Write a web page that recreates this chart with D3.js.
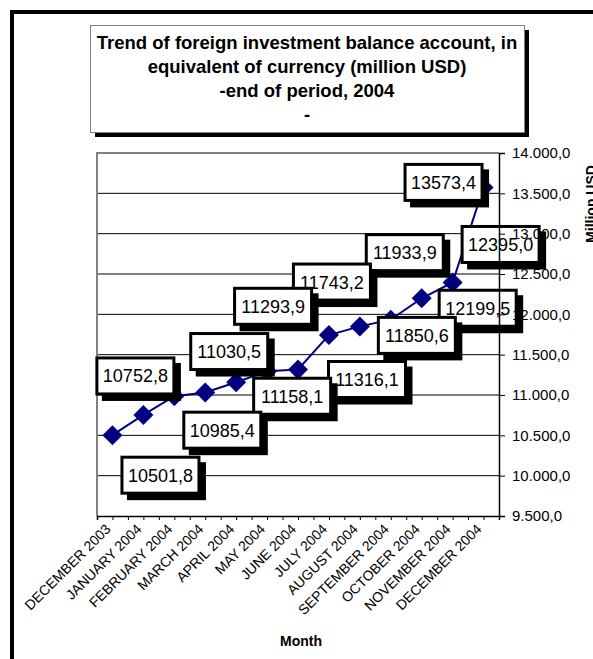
<!DOCTYPE html>
<html>
<head>
<meta charset="utf-8">
<script src="https://cdn.jsdelivr.net/npm/d3@7"></script>
<style>
  body { margin: 0; background: #fff; }
  svg { display: block; font-family: "Liberation Sans", Arial, sans-serif; }
</style>
</head>
<body>
<svg id="chart" width="593" height="659"></svg>
<script>
// chart data
const months = ["DECEMBER 2003", "JANUARY 2004", "FEBRUARY 2004", "MARCH 2004", "APRIL 2004",
    "MAY 2004", "JUNE 2004", "JULY 2004", "AUGUST 2004", "SEPTEMBER 2004",
    "OCTOBER 2004", "NOVEMBER 2004", "DECEMBER 2004"];
const balance = [10501.8, 10752.8, 10985.4, 11030.5, 11158.1, 11293.9, 11316.1,
    11743.2, 11850.6, 11933.9, 12199.5, 12395.0, 13573.4];
const yTicks = [9500, 10000, 10500, 11000, 11500, 12000, 12500, 13000, 13500, 14000];
const titleLines = ["Trend of foreign investment balance account, in",
    "equivalent of currency (million USD)", "-end of period, 2004", "-"];

const NAVY = '#000080';
const locale = d3.formatLocale({ decimal: ",", thousands: ".", grouping: [3], currency: ["", ""] });
const tickFmt = locale.format(",.1f");
const valFmt = locale.format(".1f");

var svg = d3.select("#chart");

// outer frame (only top and left edges show)
svg.append("path")
    .attr("d", "M12,700V12H700")
    .attr("fill", "none")
    .attr("stroke", "#000")
    .attr("stroke-width", 4);

// title box with shadow
svg.append("rect").attr("x", 95).attr("y", 30).attr("width", 434).attr("height", 107).attr("fill", "#000");
svg.append("rect").attr("x", 90.5).attr("y", 25.5).attr("width", 434).attr("height", 107)
    .attr("fill", "#fff").attr("stroke", "#808080").attr("stroke-width", 1);
svg.append("g").selectAll("text")
    .data(titleLines)
    .enter()
    .append("text")
    .attr("x", 307)
    .attr("y", (d, i) => 49 + i * 24)
    .attr("text-anchor", "middle")
    .style("font-size", "18.5px")
    .style("font-weight", "bold")
    .text(d => d);

// scales
var plotL = 97, plotR = 499, plotT = 153, plotB = 516;
var x = d3.scaleLinear().domain([-0.5, months.length - 0.5]).range([plotL, plotR]);
var y = d3.scaleLinear().domain([9500, 14000]).range([plotB, plotT]);

// grid
svg.append("g").selectAll("line")
    .data(yTicks.slice(1, -1))
    .enter()
    .append("line")
    .attr("x1", plotL).attr("x2", plotR)
    .attr("y1", d => y(d)).attr("y2", d => y(d))
    .attr("stroke", "#000").attr("stroke-width", 1);

// plot border top / left
svg.append("path")
    .attr("d", "M" + plotL + "," + plotB + "V" + plotT + "H" + plotR)
    .attr("fill", "none")
    .attr("stroke", "#808080")
    .attr("stroke-width", 2);

// bottom axis with half-category ticks
var halfTicks = d3.range(0, months.length * 2).map(i => i / 2 - 0.5).filter(d => d > -0.5);
var xAxis = d3.axisBottom(x).tickValues(halfTicks).tickSize(4).tickFormat("");
var gx = svg.append("g").attr("transform", "translate(0," + plotB + ")").call(xAxis);
gx.select(".domain").attr("stroke", "#000").attr("stroke-width", 1.5);
gx.selectAll(".tick line").attr("stroke", "#000");

// month labels
svg.append("g").selectAll("text")
    .data(months)
    .enter()
    .append("text")
    .attr("transform", (d, i) => "translate(" + (x(i) - 1) + "," + (plotB + 14) + ") rotate(-45)")
    .attr("text-anchor", "end")
    .style("font-size", "14px")
    .text(d => d);

svg.append("text")
    .attr("x", 301).attr("y", 646)
    .attr("text-anchor", "middle")
    .style("font-size", "14px").style("font-weight", "bold")
    .text("Month");

svg.append("text")
    .attr("transform", "translate(596,204) rotate(-90)")
    .attr("text-anchor", "middle")
    .style("font-size", "14px").style("font-weight", "bold")
    .text("Million USD");

// line + markers
var line = d3.line().x((d, i) => x(i)).y(d => y(d));
svg.append("path")
    .datum(balance)
    .attr("d", line)
    .attr("fill", "none")
    .attr("stroke", NAVY)
    .attr("stroke-width", 2);

svg.append("g").selectAll("path")
    .data(balance)
    .enter()
    .append("path")
    .attr("d", d3.symbol().type(d3.symbolSquare).size(200))
    .attr("transform", (d, i) => "translate(" + x(i) + "," + y(d) + ") rotate(45)")
    .attr("fill", NAVY);

// value labels, placed by hand around each point (box centre offset)
var offsets = [[48, 40], [-8, -39], [48, 34], [24, -41], [56, 14], [6, -65], [69, 10],
    [3, -53], [57, 9], [14, -67], [56, 10], [48, -38], [-40, -5]];
var bw = 77, bh = 36;
var idx = d3.range(balance.length).reverse();
var labels = svg.append("g").selectAll("g")
    .data(idx)
    .enter()
    .append("g")
    .attr("transform", i => "translate(" + (x(i) + offsets[i][0]) + "," + (y(balance[i]) + offsets[i][1]) + ")");
labels.append("rect")
    .attr("x", -bw / 2 + 5).attr("y", -bh / 2 + 5)
    .attr("width", bw + 2).attr("height", bh + 2)
    .attr("fill", "#000");
labels.append("rect")
    .attr("x", -bw / 2).attr("y", -bh / 2)
    .attr("width", bw).attr("height", bh)
    .attr("fill", "#fff").attr("stroke", "#000").attr("stroke-width", 3);
labels.append("text")
    .attr("y", 6.5)
    .attr("text-anchor", "middle")
    .style("font-size", "18px")
    .text(i => valFmt(balance[i]));

// right axis (drawn last, its labels sit over the boxes)
var yAxis = d3.axisRight(y).tickValues(yTicks).tickSize(6).tickPadding(7).tickFormat(tickFmt);
var gy = svg.append("g").attr("transform", "translate(" + plotR + ",0)").call(yAxis);
gy.select(".domain").attr("stroke", "#000").attr("stroke-width", 1.5);
gy.selectAll(".tick line").attr("stroke", "#000");
gy.selectAll(".tick text")
    .style("font-size", "15px")
    .style("font-family", "'Liberation Sans', Arial, sans-serif")
    .attr("fill", "#000");
</script>
</body>
</html>
